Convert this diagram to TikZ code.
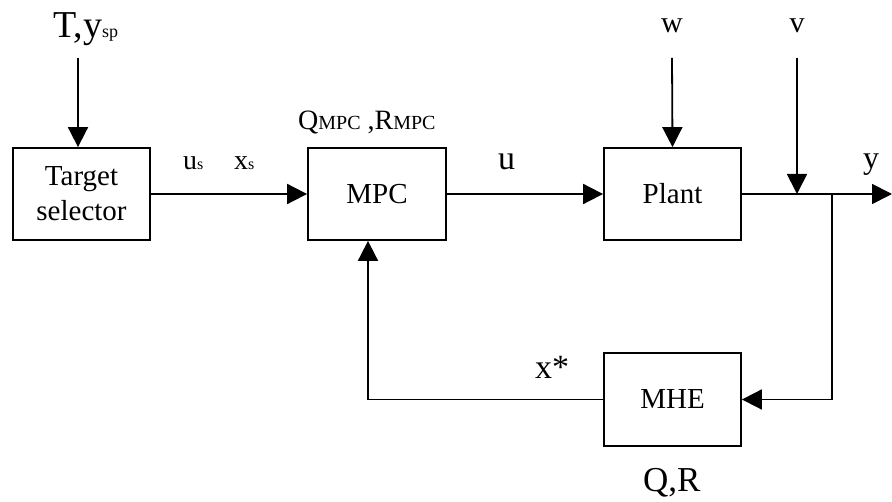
\documentclass[tikz,border=0pt]{standalone}
\usepackage{fontspec}
\setmainfont{Liberation Serif}
\usetikzlibrary{arrows.meta}
\begin{document}
\begin{tikzpicture}[x=1pt,y=-1pt,
  blk/.style={draw,line width=1.8pt,minimum width=137pt,minimum height=92pt,inner sep=0pt,align=center,font=\fontsize{29}{35}\selectfont},
  conn/.style={line width=1.8pt},
  arr/.style={conn,-{Triangle[length=20pt,width=20pt]}},
  lbl/.style={inner sep=0pt,anchor=base west}]
\useasboundingbox (0,0) rectangle (892,502);
\node[blk] (ts) at (81.5,194) {Target\\selector};
\node[blk,minimum width=138pt] (mpc) at (377,194) {MPC};
\node[blk] (plant) at (672.5,194) {Plant};
\node[blk,minimum height=93pt] (mhe) at (672.5,399.5) {MHE};
\coordinate (tin) at (78,58);
\coordinate (win) at (672,58);
\coordinate (vin) at (797,58);
\coordinate (vj) at (797,194);
\coordinate (jn) at (832,194);
\coordinate (yout) at (892,194);
\coordinate (fb) at (368,399.5);
\draw[arr] (tin) -- (tin |- ts.north);
\draw[arr] (ts.east) -- (mpc.west);
\draw[arr] (mpc.east) -- (plant.west);
\draw[arr] (win) -- (plant.north);
\draw[arr] (plant.east) -- (yout);
\draw[arr] (vin) -- (vj);
\draw[arr] (jn) |- (mhe.east);
\draw[arr] (mhe.west) -- (fb) -- (fb |- mpc.south);
\node[lbl,font=\fontsize{38}{40}\selectfont] (tl) at (53,38) {T,y{\fontsize{18}{20}\selectfont sp}};
\node[lbl,font=\fontsize{28}{30}\selectfont] (ql) at (298,130) {Q{\fontsize{20}{22}\selectfont MPC} ,R{\fontsize{20}{22}\selectfont MPC}};
\node[lbl,font=\fontsize{28}{30}\selectfont] (us) at (183,170) {u{\fontsize{16}{18}\selectfont s}};
\node[lbl,font=\fontsize{28}{30}\selectfont] (xs) at (234,170) {x{\fontsize{16}{18}\selectfont s}};
\node[lbl,font=\fontsize{34}{36}\selectfont] (ul) at (498,170) {u};
\node[inner sep=0pt,anchor=base,font=\fontsize{30}{32}\selectfont] (wl) at (672,33) {w};
\node[inner sep=0pt,anchor=base,font=\fontsize{30}{32}\selectfont] (vl) at (797,33) {v};
\node[lbl,font=\fontsize{32}{34}\selectfont] (yl) at (863,169) {y};
\node[lbl,font=\fontsize{34}{36}\selectfont] (xl) at (535,379) {x*};
\node[lbl,font=\fontsize{35}{36}\selectfont] (qr) at (643,492) {Q,R};
\end{tikzpicture}
\end{document}
